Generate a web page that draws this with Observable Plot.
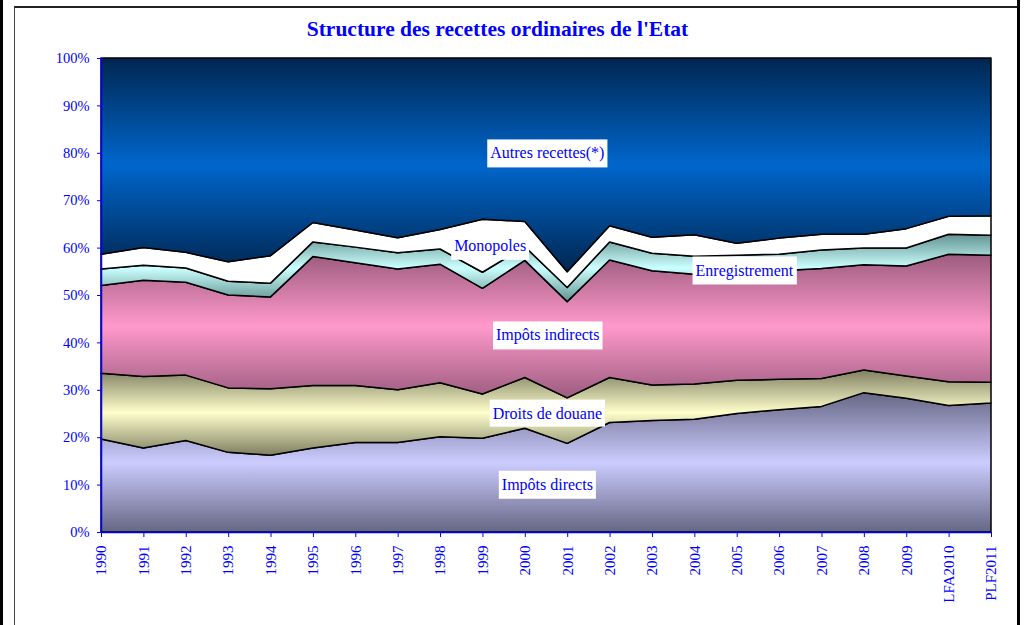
<!DOCTYPE html>
<html><head><meta charset="utf-8">
<script src="https://cdn.jsdelivr.net/npm/d3@7"></script>
<script src="https://cdn.jsdelivr.net/npm/@observablehq/plot@0.6"></script>
<style>
body{margin:0;background:#fff;}
#wrap{position:relative;width:1025px;height:625px;overflow:hidden;font-family:"Liberation Serif","Times New Roman",serif;}
#barL{position:absolute;left:0;top:0;width:3px;height:625px;background:#000;}
#barR{position:absolute;left:1017px;top:0;width:3px;height:625px;background:#000;}
#frame{position:absolute;left:14px;top:6px;width:1003px;height:640px;border-left:1px solid #444;border-top:2px solid #222;}
#title{position:absolute;left:0;width:995px;top:17px;line-height:25px;text-align:center;font-weight:bold;font-size:21.5px;color:#0000ff;white-space:nowrap;}
#chart{position:absolute;left:0;top:0;}
</style></head>
<body>
<div id="wrap">
  <div id="barL"></div><div id="frame"></div><div id="barR"></div>
  <div id="chart"></div>
  <div id="title">Structure des recettes ordinaires de l'Etat</div>
</div>
<script>
const years = ["1990","1991","1992","1993","1994","1995","1996","1997","1998","1999","2000","2001","2002","2003","2004","2005","2006","2007","2008","2009","LFA2010","PLF2011"];
const series = ["Impôts directs","Droits de douane","Impôts indirects","Enregistrement","Monopoles","Autres recettes(*)"];
const impotsDirects   = [19.6,17.7,19.3,16.8,16.2,17.7,18.9,18.9,20.1,19.8,21.9,18.7,23.1,23.5,23.8,25.0,25.8,26.5,29.4,28.2,26.7,27.2];
const droitsDouane    = [13.9,15.1,13.8,13.6,14.0,13.2,12.0,11.1,11.4, 9.3,10.7, 9.6, 9.5, 7.5, 7.4, 7.0, 6.4, 5.9, 4.8, 4.7, 5.0, 4.4];
const impotsIndirects = [18.5,20.3,19.6,19.6,19.4,27.2,25.9,25.5,25.0,22.3,24.7,20.3,24.8,24.1,23.2,22.9,22.9,23.2,22.2,23.2,26.9,26.8];
const enregistrement  = [ 3.5, 3.2, 3.0, 2.9, 2.9, 3.1, 3.3, 3.4, 3.2, 3.4, 2.9, 3.0, 3.8, 3.7, 3.8, 3.5, 3.5, 3.9, 3.5, 3.8, 4.2, 4.2];
const monopoles       = [ 3.1, 3.7, 3.3, 4.1, 5.8, 4.1, 3.6, 3.2, 4.1,11.2, 5.3, 3.3, 3.4, 3.4, 4.5, 2.5, 3.4, 3.3, 2.9, 4.1, 3.8, 4.1];
const autresRecettes  = [41.4,40.0,41.0,43.0,41.7,34.7,36.3,37.9,36.2,34.0,34.5,45.1,35.4,37.8,37.3,39.1,38.0,37.2,37.2,36.0,33.4,33.3];
const yTicks = [0,10,20,30,40,50,60,70,80,90,100];

// label anchors (data space: category index, percent)
const labelText = ["Autres recettes(*)","Monopoles","Enregistrement","Impôts indirects","Droits de douane","Impôts directs"];
const labelX = [10.52, 9.17, 15.17, 10.53, 10.52, 10.52];
const labelY = [80.0, 60.5, 55.3, 41.6, 25.1, 10.1];

// styles
const gradEdge   = ["#666684","#7f7f62","#9c5c7e","#639393","#ffffff","#002650"];
const gradCenter = ["#ccccff","#ffffcc","#ff99cc","#ccffff","#ffffff","#0066cc"];

const valuesBySeries = [impotsDirects, droitsDouane, impotsIndirects, enregistrement, monopoles, autresRecettes];
const table = [];
series.forEach((s, k) => valuesBySeries[k].forEach((v, i) => table.push({i, s, v})));
const labels = labelText.map((t, k) => ({t, x: labelX[k], y: labelY[k]}));
const gradIds = series.map((_, k) => `url(#grad${k})`);

const svg = Plot.plot({
  width: 1025, height: 625,
  marginLeft: 101, marginRight: 34, marginTop: 58, marginBottom: 93,
  style: {fontFamily: "'Liberation Serif','Times New Roman',serif", fontSize: "14px", color: "#0000ff", background: "transparent", overflow: "visible"},
  x: {type: "linear", domain: [0, years.length - 1]},
  y: {domain: [0, 100]},
  color: {type: "ordinal", domain: series, range: gradIds},
  marks: [
    Plot.areaY(table, {x: "i", y: "v", z: "s", fill: "s", stroke: "#000", strokeWidth: 1.5, order: series}),
    Plot.ruleX([0], {stroke: "#0000ff", strokeWidth: 1.5}),
    Plot.ruleY([0], {stroke: "#0000ff", strokeWidth: 1.5}),
    Plot.axisY({ticks: yTicks, tickFormat: d => d + "%", tickSize: 4, tickPadding: 8, label: null, fontSize: 14.5}),
    Plot.axisX({ticks: d3.range(years.length), tickFormat: i => years[i], tickRotate: -90, tickSize: 5, tickPadding: 8, label: null, fontSize: 15}),
    Plot.text(labels, {x: "x", y: "y", text: "t", fill: "#0000ff", fontSize: 16, fontFamily: "'Liberation Serif','Times New Roman',serif"})
  ]
});

document.getElementById("chart").appendChild(svg);

// gradients (vertical: dark edges, light centre)
const defs = d3.select(svg).insert("defs", ":first-child");
series.forEach((s, k) => {
  const g = defs.append("linearGradient").attr("id", `grad${k}`).attr("x1", 0).attr("y1", 0).attr("x2", 0).attr("y2", 1);
  g.append("stop").attr("offset", "0%").attr("stop-color", gradEdge[k]);
  g.append("stop").attr("offset", "50%").attr("stop-color", gradCenter[k]);
  g.append("stop").attr("offset", "100%").attr("stop-color", gradEdge[k]);
});

// white boxes behind labels
d3.select(svg).selectAll('g[aria-label="text"] text').each(function() {
  const b = this.getBBox();
  const r = document.createElementNS("http://www.w3.org/2000/svg", "rect");
  r.setAttribute("x", b.x - 3);
  r.setAttribute("y", b.y - 5);
  r.setAttribute("width", b.width + 6);
  r.setAttribute("height", b.height + 10);
  r.setAttribute("fill", "#fff");
  const tr = this.getAttribute("transform");
  if (tr) r.setAttribute("transform", tr);
  this.parentNode.insertBefore(r, this);
});
</script>
</body></html>
